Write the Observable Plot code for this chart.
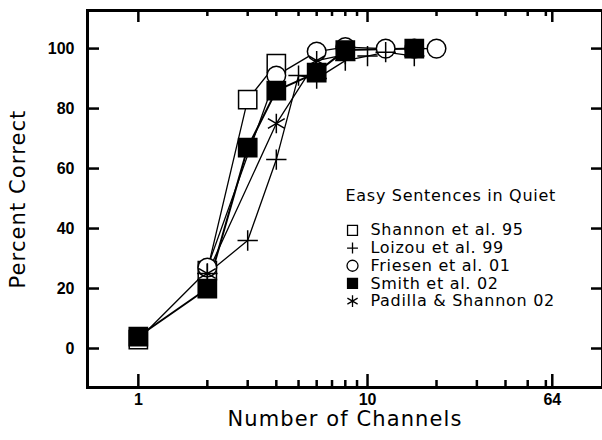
<!DOCTYPE html>
<html><head><meta charset="utf-8">
<script src="https://cdn.jsdelivr.net/npm/d3@7"></script>
<script src="https://cdn.jsdelivr.net/npm/@observablehq/plot@0.6"></script>
<style>
body{margin:0;background:#fff} svg{display:block}
g[font-size="21"] text{letter-spacing:1.1px}
g[font-size="16"][font-family="DejaVu Sans"] text{letter-spacing:0.7px}
</style>
</head><body><div id="chart"></div>
<script>
// ---- data ----
const seriesNames = ["Shannon et al. 95", "Loizou et al. 99", "Friesen et al. 01", "Smith et al. 02", "Padilla & Shannon 02"];
const shannonCh = [1, 2, 3, 4];
const shannonPct = [3, 26, 83, 95];
const loizouCh = [2, 3, 4, 5, 6, 8, 10, 12, 16];
const loizouPct = [25, 36, 63, 91, 90, 96, 97.5, 98.8, 97.5];
const friesenCh = [2, 4, 6, 8, 12, 16, 20];
const friesenPct = [27, 91, 99, 100.5, 100, 100, 100];
const smithCh = [1, 2, 3, 4, 6, 8, 16];
const smithPct = [4, 20, 67, 86, 92, 99.5, 100];
const padillaCh = [2, 4, 6, 8];
const padillaPct = [25, 75, 96, 98];
const xMajorTicks = [1, 10, 64];
const xMinorTicks = [2, 3, 4, 5, 6, 7, 8, 9, 20, 30, 40, 50, 60];
const yTicks = [0, 20, 40, 60, 80, 100];
const legendTitle = "Easy Sentences in Quiet";
const xTitle = "Number of Channels";
const yTitle = "Percent Correct";

// ---- layout & styles ----
const W = 602, H = 440, mL = 87, mR = 0, mT = 10, mB = 53;
const xDom = [0.6, 106], yDom = [-13, 112.7];
const plotW = W - mL - mR, plotH = H - mT - mB;
const yPerPx = (yDom[1] - yDom[0]) / plotH;
const decPerPx = Math.log10(xDom[1] / xDom[0]) / plotW;
const styles = [
  {symbol: "square", fill: "white", lw: 1.3, r: 10.3, lr: 5.6},
  {symbol: "plus", fill: "none", lw: 1.3, r: 6.6, lr: 3.6},
  {symbol: "circle", fill: "white", lw: 1.3, r: 9.3, lr: 5.5},
  {symbol: "square", fill: "black", lw: 2, r: 10.3, lr: 5.6},
  {symbol: "asterisk", fill: "none", lw: 1.3, r: 9.2, lr: 5.6}
];
const seriesData = [
  [shannonCh, shannonPct], [loizouCh, loizouPct], [friesenCh, friesenPct],
  [smithCh, smithPct], [padillaCh, padillaPct]
].map(([c, p]) => d3.zip(c, p));
const drawOrder = [0, 2, 1, 3, 4];
const titleFont = "DejaVu Sans";
const tickFont = "Liberation Sans";

const marks = [];
seriesData.forEach((rows, i) => {
  marks.push(Plot.line(rows, {x: d => d[0], y: d => d[1], stroke: "black", strokeWidth: styles[i].lw}));
});
drawOrder.forEach(i => {
  const s = styles[i];
  marks.push(Plot.dot(seriesData[i], {x: d => d[0], y: d => d[1], symbol: s.symbol, fill: s.fill, stroke: "black", strokeWidth: 1.5, r: s.r}));
});
// legend (placed in data coordinates)
const legX = 8.6, legTextX = 10.3, legY0 = 39.4, legStep = 5.9;
marks.push(Plot.text([legendTitle], {x: () => 8.02, y: () => 51, text: d => d, textAnchor: "start", fontSize: 16, fontFamily: titleFont, fill: "black"}));
seriesNames.forEach((name, i) => {
  const s = styles[i];
  marks.push(Plot.dot([name], {x: () => legX, y: () => legY0 - legStep * i, symbol: s.symbol, fill: s.fill, stroke: "black", strokeWidth: 1.3, r: s.lr}));
});
marks.push(Plot.text(seriesNames, {x: () => legTextX, y: (d, i) => legY0 - legStep * i, text: d => d, textAnchor: "start", fontSize: 16, fontFamily: titleFont, fill: "black"}));

// inward ticks
const tk = {stroke: "black", strokeWidth: 2.5};
marks.push(Plot.ruleX(xMajorTicks, {...tk, x: d => d, y1: yDom[0], y2: yDom[0] + 13 * yPerPx}));
marks.push(Plot.ruleX(xMinorTicks, {...tk, x: d => d, y1: yDom[0], y2: yDom[0] + 7 * yPerPx}));
marks.push(Plot.ruleX(xMajorTicks, {...tk, x: d => d, y1: yDom[1], y2: yDom[1] - 12 * yPerPx}));
marks.push(Plot.ruleX(xMinorTicks, {...tk, x: d => d, y1: yDom[1], y2: yDom[1] - 6 * yPerPx}));
marks.push(Plot.ruleY(yTicks, {...tk, y: d => d, x1: xDom[0], x2: xDom[0] * Math.pow(10, 12 * decPerPx)}));
marks.push(Plot.ruleY(yTicks, {...tk, y: d => d, x1: xDom[1], x2: xDom[1] / Math.pow(10, 11 * decPerPx)}));
// tick labels
marks.push(Plot.text(xMajorTicks, {x: d => d, frameAnchor: "bottom", lineAnchor: "top", textAnchor: "middle", dy: 6, text: d => String(d), fontSize: 16, fontWeight: "bold", fontFamily: tickFont, fill: "black"}));
marks.push(Plot.text(yTicks, {y: d => d, frameAnchor: "left", textAnchor: "end", lineAnchor: "middle", dx: -13, text: d => String(d), fontSize: 16, fontWeight: "bold", fontFamily: tickFont, fill: "black"}));
// titles
marks.push(Plot.text([xTitle], {frameAnchor: "bottom", textAnchor: "middle", lineAnchor: "middle", dy: 32, text: d => d, fontSize: 21, fontFamily: titleFont, fill: "black"}));
marks.push(Plot.text([yTitle], {frameAnchor: "left", textAnchor: "middle", lineAnchor: "middle", dx: -69, rotate: -90, text: d => d, fontSize: 21, fontFamily: titleFont, fill: "black"}));
marks.push(Plot.frame({stroke: "black", strokeWidth: 3}));

const chart = Plot.plot({
  width: W, height: H,
  marginLeft: mL, marginRight: mR, marginTop: mT, marginBottom: mB,
  style: {background: "white", color: "black", overflow: "visible"},
  x: {type: "log", domain: xDom, axis: null},
  y: {domain: yDom, axis: null},
  marks
});
document.getElementById("chart").appendChild(chart);
</script>
</body></html>
